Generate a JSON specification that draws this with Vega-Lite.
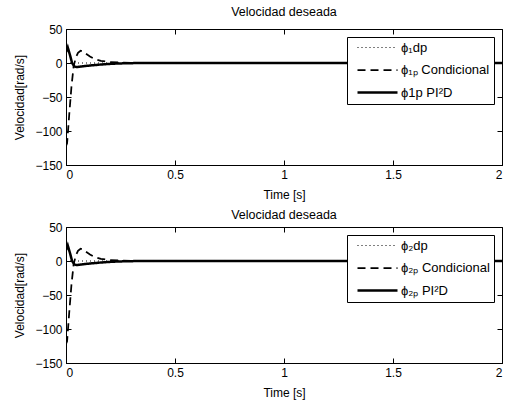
{
  "$schema": "https://vega.github.io/schema/vega-lite/v6.json",
  "background": "white",
  "padding": {"left": 13, "top": 5, "right": 5, "bottom": 5},
  "config": {
    "font": "Liberation Sans",
    "view": {"stroke": "black", "strokeWidth": 1},
    "axis": {
      "grid": false,
      "domainColor": "black",
      "tickColor": "black",
      "labelColor": "black",
      "titleColor": "black",
      "labelFontSize": 12,
      "titleFontSize": 12,
      "titleFontWeight": "normal",
      "tickSize": -5,
      "labelPadding": 9
    },
    "title": {"fontSize": 12.5, "fontWeight": "normal", "color": "black", "offset": 5},
    "legend": {
      "orient": "top-right",
      "offset": 8,
      "fillColor": "white",
      "strokeColor": "black",
      "padding": 4,
      "labelFontSize": 13,
      "labelColor": "black",
      "symbolType": "M0,0H8",
      "symbolSize": 100,
      "symbolStrokeColor": "black",
      "labelOffset": 37,
      "rowPadding": 8.5,
      "title": null
    },
    "concat": {"spacing": 7}
  },
  "datasets": {
    "p1": [
      {"t": 0, "v": 0, "s": "ϕ₁dp"},
      {"t": 1, "v": 0, "s": "ϕ₁dp"},
      {"t": 2, "v": 0, "s": "ϕ₁dp"},
      {"t": 0, "v": -122, "s": "ϕ₁ₚ Condicional"},
      {"t": 0.005, "v": -118, "s": "ϕ₁ₚ Condicional"},
      {"t": 0.015, "v": -75, "s": "ϕ₁ₚ Condicional"},
      {"t": 0.025, "v": -35, "s": "ϕ₁ₚ Condicional"},
      {"t": 0.035, "v": -5, "s": "ϕ₁ₚ Condicional"},
      {"t": 0.045, "v": 8, "s": "ϕ₁ₚ Condicional"},
      {"t": 0.055, "v": 15, "s": "ϕ₁ₚ Condicional"},
      {"t": 0.067, "v": 18, "s": "ϕ₁ₚ Condicional"},
      {"t": 0.078, "v": 17, "s": "ϕ₁ₚ Condicional"},
      {"t": 0.09, "v": 14, "s": "ϕ₁ₚ Condicional"},
      {"t": 0.11, "v": 9.5, "s": "ϕ₁ₚ Condicional"},
      {"t": 0.13, "v": 6, "s": "ϕ₁ₚ Condicional"},
      {"t": 0.16, "v": 3, "s": "ϕ₁ₚ Condicional"},
      {"t": 0.2, "v": 1.5, "s": "ϕ₁ₚ Condicional"},
      {"t": 0.25, "v": 0.6, "s": "ϕ₁ₚ Condicional"},
      {"t": 0.3, "v": 0.2, "s": "ϕ₁ₚ Condicional"},
      {"t": 0.4, "v": 0, "s": "ϕ₁ₚ Condicional"},
      {"t": 2, "v": 0, "s": "ϕ₁ₚ Condicional"},
      {"t": 0, "v": 16, "s": "ϕ1p PI²D"},
      {"t": 0.008, "v": 23, "s": "ϕ1p PI²D"},
      {"t": 0.018, "v": 12, "s": "ϕ1p PI²D"},
      {"t": 0.028, "v": 0, "s": "ϕ1p PI²D"},
      {"t": 0.038, "v": -5, "s": "ϕ1p PI²D"},
      {"t": 0.047, "v": -6, "s": "ϕ1p PI²D"},
      {"t": 0.06, "v": -5.5, "s": "ϕ1p PI²D"},
      {"t": 0.1, "v": -4, "s": "ϕ1p PI²D"},
      {"t": 0.15, "v": -2.5, "s": "ϕ1p PI²D"},
      {"t": 0.2, "v": -1.3, "s": "ϕ1p PI²D"},
      {"t": 0.25, "v": -0.6, "s": "ϕ1p PI²D"},
      {"t": 0.3, "v": -0.2, "s": "ϕ1p PI²D"},
      {"t": 0.4, "v": 0, "s": "ϕ1p PI²D"},
      {"t": 2, "v": 0, "s": "ϕ1p PI²D"}
    ],
    "p2": [
      {"t": 0, "v": 0, "s": "ϕ₂dp"},
      {"t": 1, "v": 0, "s": "ϕ₂dp"},
      {"t": 2, "v": 0, "s": "ϕ₂dp"},
      {"t": 0, "v": -122, "s": "ϕ₂ₚ Condicional"},
      {"t": 0.005, "v": -118, "s": "ϕ₂ₚ Condicional"},
      {"t": 0.015, "v": -75, "s": "ϕ₂ₚ Condicional"},
      {"t": 0.025, "v": -35, "s": "ϕ₂ₚ Condicional"},
      {"t": 0.035, "v": -5, "s": "ϕ₂ₚ Condicional"},
      {"t": 0.045, "v": 8, "s": "ϕ₂ₚ Condicional"},
      {"t": 0.055, "v": 15, "s": "ϕ₂ₚ Condicional"},
      {"t": 0.067, "v": 18, "s": "ϕ₂ₚ Condicional"},
      {"t": 0.078, "v": 17, "s": "ϕ₂ₚ Condicional"},
      {"t": 0.09, "v": 14, "s": "ϕ₂ₚ Condicional"},
      {"t": 0.11, "v": 9.5, "s": "ϕ₂ₚ Condicional"},
      {"t": 0.13, "v": 6, "s": "ϕ₂ₚ Condicional"},
      {"t": 0.16, "v": 3, "s": "ϕ₂ₚ Condicional"},
      {"t": 0.2, "v": 1.5, "s": "ϕ₂ₚ Condicional"},
      {"t": 0.25, "v": 0.6, "s": "ϕ₂ₚ Condicional"},
      {"t": 0.3, "v": 0.2, "s": "ϕ₂ₚ Condicional"},
      {"t": 0.4, "v": 0, "s": "ϕ₂ₚ Condicional"},
      {"t": 2, "v": 0, "s": "ϕ₂ₚ Condicional"},
      {"t": 0, "v": 16, "s": "ϕ₂ₚ PI²D"},
      {"t": 0.008, "v": 23, "s": "ϕ₂ₚ PI²D"},
      {"t": 0.018, "v": 12, "s": "ϕ₂ₚ PI²D"},
      {"t": 0.028, "v": 0, "s": "ϕ₂ₚ PI²D"},
      {"t": 0.038, "v": -5, "s": "ϕ₂ₚ PI²D"},
      {"t": 0.047, "v": -6, "s": "ϕ₂ₚ PI²D"},
      {"t": 0.06, "v": -5.5, "s": "ϕ₂ₚ PI²D"},
      {"t": 0.1, "v": -4, "s": "ϕ₂ₚ PI²D"},
      {"t": 0.15, "v": -2.5, "s": "ϕ₂ₚ PI²D"},
      {"t": 0.2, "v": -1.3, "s": "ϕ₂ₚ PI²D"},
      {"t": 0.25, "v": -0.6, "s": "ϕ₂ₚ PI²D"},
      {"t": 0.3, "v": -0.2, "s": "ϕ₂ₚ PI²D"},
      {"t": 0.4, "v": 0, "s": "ϕ₂ₚ PI²D"},
      {"t": 2, "v": 0, "s": "ϕ₂ₚ PI²D"}
    ]
  },
  "vconcat": [
    {
      "width": 436,
      "height": 136,
      "title": "Velocidad deseada",
      "data": {"name": "p1"},
      "layer": [
        {
          "mark": {"type": "line", "color": "black", "clip": true},
          "encoding": {
            "x": {"field": "t", "type": "quantitative", "scale": {"domain": [0, 2], "nice": false}, "axis": {"values": [0, 0.5, 1, 1.5, 2], "title": "Time [s]", "labelExpr": "datum.value + ''", "titlePadding": 9}},
            "y": {"field": "v", "type": "quantitative", "scale": {"domain": [-150, 50], "nice": false}, "axis": {"values": [-150, -100, -50, 0, 50], "title": "Velocidad[rad/s]", "titlePadding": 8}},
            "strokeDash": {"field": "s", "type": "nominal", "scale": {"domain": ["ϕ₁dp", "ϕ₁ₚ Condicional", "ϕ1p PI²D"], "range": [[1, 3], [8, 5], [1, 0]]}},
            "strokeWidth": {"field": "s", "type": "nominal", "scale": {"domain": ["ϕ₁dp", "ϕ₁ₚ Condicional", "ϕ1p PI²D"], "range": [1, 2.5, 2.5]}}
          }
        },
        {
          "mark": {"type": "line", "opacity": 0},
          "encoding": {
            "x": {"field": "t", "type": "quantitative", "axis": {"orient": "top", "values": [0, 0.5, 1, 1.5, 2], "labels": false, "title": null, "domain": false}},
            "y": {"field": "v", "type": "quantitative", "axis": {"orient": "right", "values": [-150, -100, -50, 0, 50], "labels": false, "title": null, "domain": false}}
          }
        }
      ],
      "resolve": {"axis": {"x": "independent", "y": "independent"}}
    },
    {
      "width": 436,
      "height": 136,
      "title": {"text": "Velocidad deseada", "offset": 0},
      "data": {"name": "p2"},
      "layer": [
        {
          "mark": {"type": "line", "color": "black", "clip": true},
          "encoding": {
            "x": {"field": "t", "type": "quantitative", "scale": {"domain": [0, 2], "nice": false}, "axis": {"values": [0, 0.5, 1, 1.5, 2], "title": "Time [s]", "labelExpr": "datum.value + ''", "titlePadding": 9}},
            "y": {"field": "v", "type": "quantitative", "scale": {"domain": [-150, 50], "nice": false}, "axis": {"values": [-150, -100, -50, 0, 50], "title": "Velocidad[rad/s]", "titlePadding": 8}},
            "strokeDash": {"field": "s", "type": "nominal", "scale": {"domain": ["ϕ₂dp", "ϕ₂ₚ Condicional", "ϕ₂ₚ PI²D"], "range": [[1, 3], [8, 5], [1, 0]]}},
            "strokeWidth": {"field": "s", "type": "nominal", "scale": {"domain": ["ϕ₂dp", "ϕ₂ₚ Condicional", "ϕ₂ₚ PI²D"], "range": [1, 2.5, 2.5]}}
          }
        },
        {
          "mark": {"type": "line", "opacity": 0},
          "encoding": {
            "x": {"field": "t", "type": "quantitative", "axis": {"orient": "top", "values": [0, 0.5, 1, 1.5, 2], "labels": false, "title": null, "domain": false}},
            "y": {"field": "v", "type": "quantitative", "axis": {"orient": "right", "values": [-150, -100, -50, 0, 50], "labels": false, "title": null, "domain": false}}
          }
        }
      ],
      "resolve": {"axis": {"x": "independent", "y": "independent"}}
    }
  ],
  "resolve": {"scale": {"strokeDash": "independent", "strokeWidth": "independent"}, "legend": {"strokeDash": "independent", "strokeWidth": "independent"}}
}
